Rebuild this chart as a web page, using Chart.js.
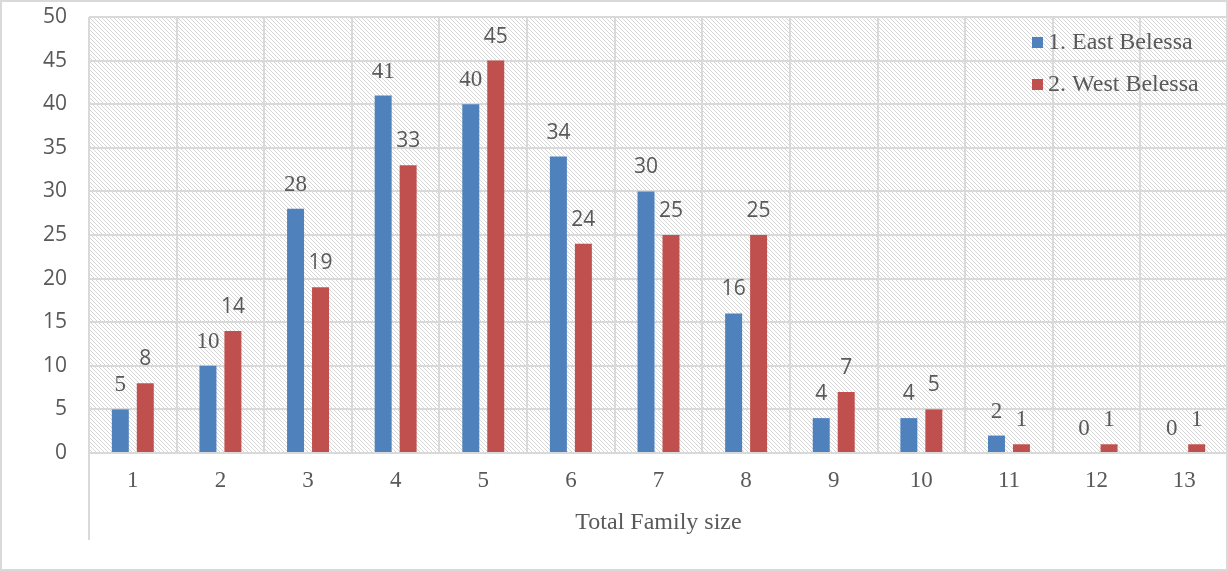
<!DOCTYPE html>
<html>
<head>
<meta charset="utf-8">
<script src="https://cdn.jsdelivr.net/npm/chart.js@4"></script>
<style>
  html, body { margin: 0; padding: 0; background: #fff; }
  #wrap { width: 1228px; height: 571px; position: relative; }
</style>
</head>
<body>
<div id="wrap"><canvas id="familyChart"></canvas></div>
<script>
const familySizes = ['1', '2', '3', '4', '5', '6', '7', '8', '9', '10', '11', '12', '13'];
const eastBelessa = [5, 10, 28, 41, 40, 34, 30, 16, 4, 4, 2, 0, 0];
const westBelessa = [8, 14, 19, 33, 45, 24, 25, 25, 7, 5, 1, 1, 1];
const yTicks = [0, 5, 10, 15, 20, 25, 30, 35, 40, 45, 50];

// which value labels come out in the serif face (as in the original)
const serifLabels = [[0, 1, 2, 3, 4, 10, 11, 12], [10, 11, 12]];

const textGray = '#595959';
const serif = '"Liberation Serif", "Times New Roman", serif';
const sans = '"Open Sans", "Noto Sans", sans-serif';

// diagonal hatch for the plot area
function makeHatch() {
  const c = document.createElement('canvas');
  c.width = 4; c.height = 4;
  const g = c.getContext('2d');
  g.fillStyle = '#ffffff';
  g.fillRect(0, 0, 4, 4);
  g.strokeStyle = '#d6d6d6';
  g.lineWidth = 1;
  g.beginPath();
  g.moveTo(0, 0); g.lineTo(4, 4);
  g.moveTo(-1, 3); g.lineTo(1, 5);
  g.moveTo(3, -1); g.lineTo(5, 1);
  g.stroke();
  return g.createPattern(c, 'repeat');
}

const excelLook = {
  id: 'excelLook',
  beforeDraw(chart) {
    const { ctx, chartArea: a } = chart;
    ctx.save();
    ctx.fillStyle = makeHatch();
    ctx.fillRect(a.left, a.top, a.right - a.left, a.bottom - a.top);
    ctx.restore();
  },
  afterDraw(chart) {
    const { ctx, chartArea: a } = chart;
    const xs = chart.scales.x;
    ctx.save();
    // outer frame
    ctx.strokeStyle = '#d9d9d9';
    ctx.lineWidth = 2;
    ctx.strokeRect(1, 1, chart.width - 2, chart.height - 2);
    // left axis line running down past the category labels
    ctx.beginPath();
    ctx.moveTo(a.left, a.bottom);
    ctx.lineTo(a.left, xs.bottom);
    ctx.stroke();

    // value labels
    ctx.fillStyle = textGray;
    ctx.textAlign = 'center';
    ctx.textBaseline = 'middle';
    chart.data.datasets.forEach((ds, di) => {
      chart.getDatasetMeta(di).data.forEach((bar, i) => {
        const isSerif = serifLabels[di].includes(i);
        ctx.font = isSerif ? '23px ' + serif : '21px ' + sans;
        ctx.fillText(String(ds.data[i]), bar.x, bar.y - 24);
      });
    });

    // legend inside the plot, top right
    chart.data.datasets.forEach((ds, di) => {
      const y = 42 + di * 42;
      ctx.fillStyle = ds.backgroundColor;
      ctx.fillRect(1032, y - 5, 11, 11);
      ctx.fillStyle = textGray;
      ctx.textAlign = 'left';
      ctx.font = '24px ' + serif;
      ctx.fillText(ds.label, 1048, y + 1);
    });
    ctx.restore();
  }
};

new Chart(document.getElementById('familyChart'), {
  type: 'bar',
  data: {
    labels: familySizes,
    datasets: [
      { label: '1. East Belessa', data: eastBelessa, backgroundColor: '#4F81BD' },
      { label: '2. West Belessa', data: westBelessa, backgroundColor: '#C0504D' }
    ]
  },
  options: {
    responsive: true,
    maintainAspectRatio: false,
    animation: false,
    categoryPercentage: 0.57,
    barPercentage: 0.68,
    layout: { padding: { top: 17, right: 0, bottom: 31, left: 0 } },
    plugins: {
      legend: { display: false },
      tooltip: { enabled: false }
    },
    scales: {
      x: {
        afterFit(scale) { scale.height = 87; },
        grid: { color: '#d9d9d9', lineWidth: 2, drawTicks: false, offset: true },
        border: { color: '#d9d9d9', width: 2 },
        ticks: { color: textGray, font: { family: serif, size: 23 }, padding: 14 },
        title: {
          display: true,
          text: 'Total Family size',
          color: textGray,
          font: { family: serif, size: 24 },
          padding: { top: 10, bottom: 3 }
        }
      },
      y: {
        min: 0,
        max: 50,
        afterBuildTicks(scale) { scale.ticks = yTicks.map(v => ({ value: v })); },
        afterFit(scale) {
          scale.width = 89;
          scale.paddingTop = 0;
          scale.paddingBottom = 0;
        },
        grid: { color: '#d9d9d9', lineWidth: 2, drawTicks: false },
        border: { display: false },
        ticks: { color: textGray, font: { family: sans, size: 21 }, padding: 22 }
      }
    }
  },
  plugins: [excelLook]
});
</script>
</body>
</html>
